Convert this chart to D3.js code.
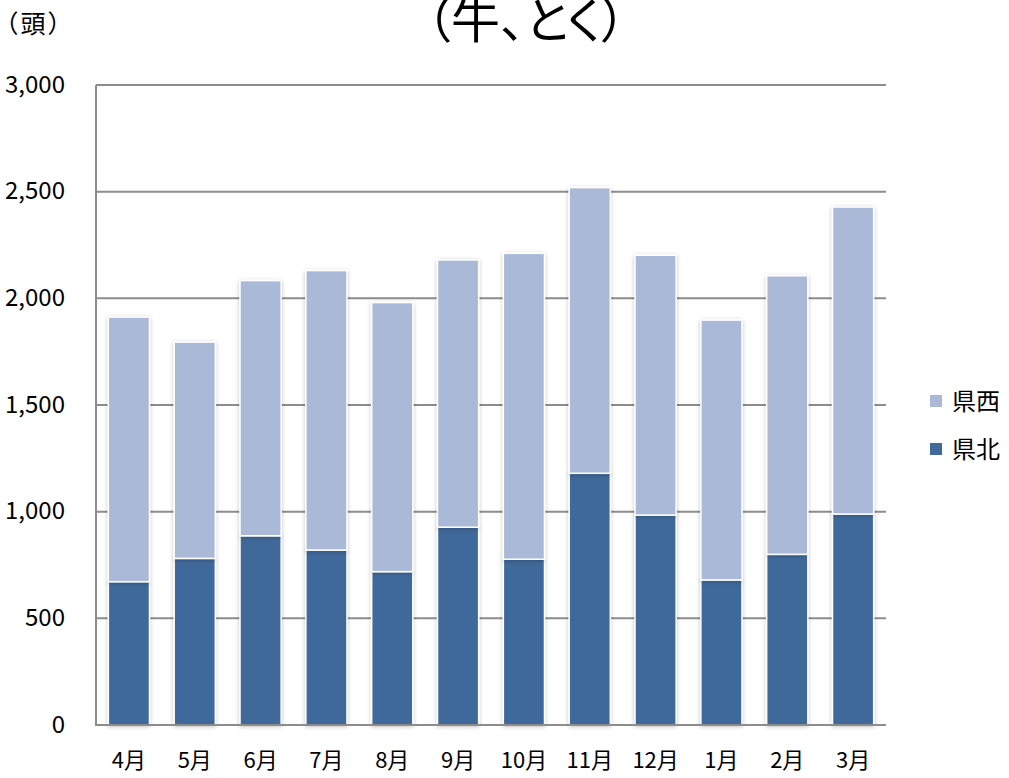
<!DOCTYPE html>
<html><head><meta charset="utf-8">
<script src="https://cdn.jsdelivr.net/npm/d3@7"></script>
<style>
body{margin:0;background:#fff;}
text{font-family:"Noto Sans CJK JP","Noto Sans",sans-serif;fill:#000;}
.palt{font-feature-settings:"palt";}
</style></head>
<body><svg id="c" width="1009" height="778"></svg>
<script>
const months = ["4月","5月","6月","7月","8月","9月","10月","11月","12月","1月","2月","3月"];
const kenhoku = [672,781,887,820,719,927,777,1180,984,680,800,989];
const kenseiTotal = [1912,1795,2083,2130,1980,2180,2211,2519,2202,1898,2106,2428];
const kensei = kenseiTotal.map((t,i)=>t-kenhoku[i]);
const seriesNames = ["県北","県西"];
const colors = {"県北":"#41699B","県西":"#AAB9D7"};
const yTicks = [0,500,1000,1500,2000,2500,3000];

const svg = d3.select("#c");
const L=96,R=886,T=85,B=725;
const x = d3.scaleBand().domain(months).range([L,R]).paddingInner(0.375).paddingOuter(0.1875);
const y = d3.scaleLinear().domain([0,3000]).range([B,T]);

const defs = svg.append("defs");
const f = defs.append("filter").attr("id","sh").attr("x","-20%").attr("y","-5%").attr("width","140%").attr("height","110%");
f.append("feGaussianBlur").attr("in","SourceAlpha").attr("stdDeviation",2).attr("result","b");
f.append("feOffset").attr("in","b").attr("dx",0).attr("dy",1).attr("result","o");
f.append("feComponentTransfer").attr("in","o").attr("result","o2").append("feFuncA").attr("type","linear").attr("slope",0.25);
const m = f.append("feMerge"); m.append("feMergeNode").attr("in","o2"); m.append("feMergeNode").attr("in","SourceGraphic");

// gridlines
svg.append("g").selectAll("line").data(yTicks.filter(d=>d>0)).join("line")
  .attr("x1",L).attr("x2",R).attr("y1",d=>y(d)).attr("y2",d=>y(d))
  .attr("stroke","#8c8c8c").attr("stroke-width",2);

const data = months.map((mo,i)=>({month:mo,"県北":kenhoku[i],"県西":kensei[i]}));
const stack = d3.stack().keys(seriesNames)(data);
svg.append("g").selectAll("g").data(stack).join("g")
  .attr("fill",d=>colors[d.key])
  .selectAll("rect").data(d=>d).join("rect")
  .attr("x",d=>x(d.data.month)).attr("width",x.bandwidth())
  .attr("y",d=>y(d[1])).attr("height",d=>y(d[0])-y(d[1]))
  .attr("stroke","#fff").attr("stroke-width",1.5).attr("filter","url(#sh)");

// axes lines
svg.append("line").attr("x1",L).attr("x2",L).attr("y1",T).attr("y2",B).attr("stroke","#8c8c8c").attr("stroke-width",2);
svg.append("line").attr("x1",L-1).attr("x2",R).attr("y1",B).attr("y2",B).attr("stroke","#8c8c8c").attr("stroke-width",2);

// y axis labels
const ya = svg.append("g").attr("transform",`translate(${L-31},0)`)
  .call(d3.axisLeft(y).tickValues(yTicks).tickFormat(d3.format(",")).tickSize(0));
ya.select(".domain").remove();
ya.selectAll("text").attr("font-size",24).attr("x",0).attr("dy","0.3em")
  .style("font-family","'Noto Sans CJK JP',sans-serif");

// x axis labels
const xa = svg.append("g").attr("transform",`translate(0,${B})`)
  .call(d3.axisBottom(x).tickSize(0));
xa.select(".domain").remove();
xa.selectAll("text").attr("font-size",22).attr("y",43).attr("dy","0")
  .style("font-family","'Noto Sans CJK JP',sans-serif");

// title
svg.append("text").attr("class","palt").attr("x",426).attr("y",38)
  .style("font-size","49px").attr("textLength",200).attr("lengthAdjust","spacing").text("（牛、とく）");
svg.append("text").attr("class","palt").attr("x",5).attr("y",33)
  .style("font-size","25px").attr("textLength",56).attr("lengthAdjust","spacing").text("（頭）");

// legend
const leg = svg.append("g");
["県西","県北"].forEach((k,i)=>{
  const yy = 401 + i*48;
  leg.append("rect").attr("x",930).attr("y",yy-6).attr("width",12).attr("height",12).attr("fill",colors[k]);
  leg.append("text").attr("x",952).attr("y",yy).attr("dy","0.36em").attr("font-size",24).text(k);
});
</script></body></html>
